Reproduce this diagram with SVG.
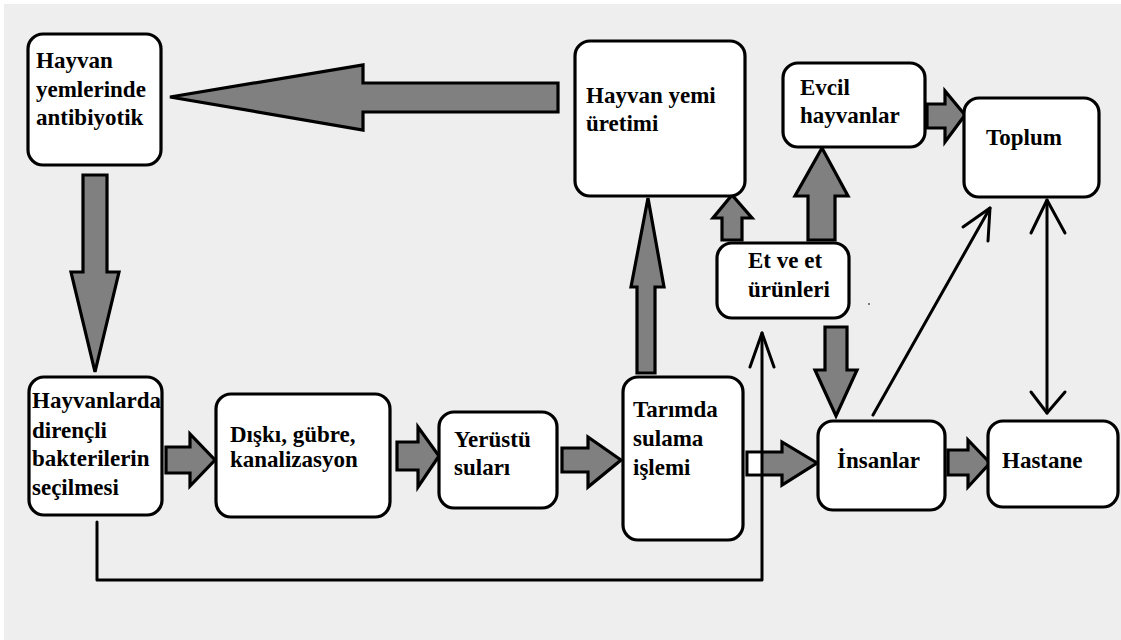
<svg xmlns="http://www.w3.org/2000/svg" width="1121" height="640" viewBox="0 0 1121 640">
<style>
.box{fill:#ffffff;stroke:#000;stroke-width:3.2}
.big{fill:#808080;stroke:#000;stroke-width:3.2;stroke-linejoin:miter}
.ln{fill:none;stroke:#000;stroke-width:3;stroke-linecap:round;stroke-linejoin:round}
text{font-family:'Liberation Serif','Times New Roman',Tinos,'DejaVu Serif',serif;font-weight:700;font-size:23px;fill:#000}
</style>
<rect x="0" y="0" width="1121" height="640" fill="#ffffff"/>
<rect x="4" y="4" width="1117" height="636" fill="#eeeeee"/>

<g id="connectors">
  <polygon class="big" points="558,83 363,83 363,65 170,97 363,130 363,112 558,112"/>
  <polygon class="big" points="83,175 107,175 107,272 119,272 95,372 71,272 83,272"/>
  <polygon class="big" points="166,447 190,447 190,434 215,460 190,486 190,473 166,473"/>
  <polygon class="big" points="397,442 418,442 418,427 439,456 418,487 418,470 397,470"/>
  <polygon class="big" points="562,448 588,448 588,437 621,460 588,487 588,472 562,472"/>
  <polygon class="big" points="637,373 655,373 655,287 664,287 648,198 631,287 637,287"/>
  <polygon class="big" points="722,240 742,240 742,218 752,218 732,195 713,218 722,218"/>
  <polygon class="big" points="808,240 835,240 835,196 848,196 822,148 795,196 808,196"/>
  <polygon class="big" points="825,327 847,327 847,370 857,370 836,416 815,370 825,370"/>
  <polygon class="big" points="927,104 945,104 945,91 965,115 945,142 945,128 927,128"/>
  <polygon class="big" points="747,452 782,452 782,442 817,463 782,485 782,475 747,475"/>
  <rect x="748.6" y="453.6" width="13" height="19.8" fill="#ffffff"/>
  <polygon class="big" points="948,450 968,450 968,440 990,463 968,487 968,475 948,475"/>
  <polyline class="ln" points="97,522 97,580 762,580 762,333"/>
  <polyline class="ln" points="750,367 762,333 774,367"/>
  <line class="ln" x1="873" y1="415" x2="990" y2="208"/>
  <polyline class="ln" points="963,227 990,208 988,241"/>
  <line class="ln" x1="1047" y1="200" x2="1047" y2="413"/>
  <polyline class="ln" points="1031,233 1047,200 1065,233"/>
  <polyline class="ln" points="1031,392 1047,413 1065,392"/>
  <circle cx="869" cy="304" r="0.9" fill="#444"/>
</g>

<g id="n-antibiyotik">
  <rect class="box" x="28" y="34" width="133" height="131" rx="15"/>
  <text x="36" y="68">Hayvan</text>
  <text x="36" y="97">yemlerinde</text>
  <text x="36" y="125">antibiyotik</text>
</g>
<g id="n-yem">
  <rect class="box" x="575" y="41" width="170" height="155" rx="15"/>
  <text x="586" y="103">Hayvan yemi</text>
  <text x="586" y="131">üretimi</text>
</g>
<g id="n-evcil">
  <rect class="box" x="783" y="63" width="142" height="84" rx="15"/>
  <text x="800" y="95">Evcil</text>
  <text x="800" y="123">hayvanlar</text>
</g>
<g id="n-toplum">
  <rect class="box" x="964" y="98" width="135" height="99" rx="15"/>
  <text x="986" y="145">Toplum</text>
</g>
<g id="n-et">
  <rect class="box" x="717" y="243" width="132" height="75" rx="15"/>
  <text x="748" y="268">Et ve et</text>
  <text x="748" y="297">ürünleri</text>
</g>
<g id="n-direncli">
  <rect class="box" x="29" y="377" width="133" height="138" rx="15"/>
  <text x="32" y="408">Hayvanlarda</text>
  <text x="32" y="438">dirençli</text>
  <text x="32" y="466">bakterilerin</text>
  <text x="32" y="495">seçilmesi</text>
</g>
<g id="n-diski">
  <rect class="box" x="216" y="394" width="174" height="123" rx="15"/>
  <text x="230" y="442">Dışkı, gübre,</text>
  <text x="230" y="467">kanalizasyon</text>
</g>
<g id="n-yerustu">
  <rect class="box" x="439" y="412" width="118" height="96" rx="15"/>
  <text x="454" y="447">Yerüstü</text>
  <text x="454" y="475">suları</text>
</g>
<g id="n-tarim">
  <rect class="box" x="623" y="377" width="120" height="163" rx="15"/>
  <text x="633" y="417">Tarımda</text>
  <text x="633" y="446">sulama</text>
  <text x="633" y="475">işlemi</text>
</g>
<g id="n-insanlar">
  <rect class="box" x="818" y="421" width="127" height="89" rx="15"/>
  <text x="837" y="468">İnsanlar</text>
</g>
<g id="n-hastane">
  <rect class="box" x="988" y="421" width="130" height="86" rx="15"/>
  <text x="1002" y="468">Hastane</text>
</g>
</svg>
